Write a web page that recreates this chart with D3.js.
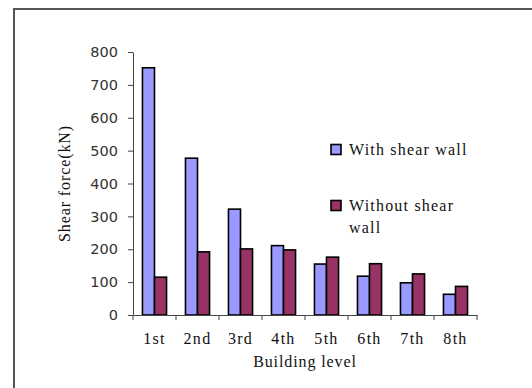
<!DOCTYPE html>
<html>
<head>
<meta charset="utf-8">
<script src="https://cdn.jsdelivr.net/npm/d3@7"></script>
<style>
  html, body { margin: 0; padding: 0; background: #fff; }
  svg { display: block; }
</style>
</head>
<body>
<svg id="chart" width="532" height="388"></svg>
<script>
// Shear force per storey, with and without a shear wall
const levels = ["1st", "2nd", "3rd", "4th", "5th", "6th", "7th", "8th"];
const withWall = [752, 477, 322, 211, 155, 118, 98, 63];
const withoutWall = [115, 192, 201, 198, 176, 156, 125, 87];
const yTicks = [0, 100, 200, 300, 400, 500, 600, 700, 800];
const seriesNames = ["With shear wall", "Without shear wall"];
const seriesColors = ["#9999FF", "#993366"];

const serif = "'Liberation Serif', 'Times New Roman', serif";
const svg = d3.select("#chart");

// outer frame (top and left edges visible)
svg.append("path")
  .attr("d", "M14,388 L14,9 L532,9")
  .attr("fill", "none")
  .attr("stroke", "#555")
  .attr("stroke-width", 2);

const plot = { left: 133, right: 477, top: 52, bottom: 315 };

const x = d3.scaleBand().domain(levels).range([plot.left, plot.right]).paddingInner(0).paddingOuter(0);
const y = d3.scaleLinear().domain([0, 800]).range([plot.bottom, plot.top]);
const barW = x.bandwidth() * 0.28;

// y axis
const yAxis = svg.append("g")
  .attr("transform", `translate(${plot.left},0)`)
  .call(d3.axisLeft(y).tickValues(yTicks).tickSize(5).tickSizeOuter(0).tickPadding(10));
yAxis.select(".domain").attr("stroke", "#444");
yAxis.selectAll(".tick line").attr("stroke", "#444");
yAxis.selectAll("text")
  .attr("font-family", "'DejaVu Sans', Verdana, sans-serif")
  .attr("font-size", "14.5px")
  .attr("fill", "#333");

// bars
const groups = levels.map((lv, i) => ({ lv, vals: [withWall[i], withoutWall[i]] }));
const g = svg.append("g");
groups.forEach(d => {
  const cx = x(d.lv) + x.bandwidth() / 2;
  d.vals.forEach((v, s) => {
    g.append("rect")
      .attr("x", cx - barW + s * barW)
      .attr("y", y(v))
      .attr("width", barW)
      .attr("height", y(0) - y(v))
      .attr("fill", seriesColors[s])
      .attr("stroke", "#000")
      .attr("stroke-width", 1.6);
  });
});

// x axis
const xAxis = svg.append("g")
  .attr("transform", `translate(0,${plot.bottom})`)
  .call(d3.axisBottom(x).tickSize(0).tickPadding(18));
xAxis.select(".domain").attr("stroke", "#444");
xAxis.selectAll("text")
  .attr("font-family", serif)
  .attr("font-size", "16px")
  .attr("letter-spacing", "1.3px")
  .attr("fill", "#111");
// tick marks between categories
const bounds = d3.range(levels.length + 1).map(i => plot.left + i * x.bandwidth());
svg.append("g").selectAll("line").data(bounds).join("line")
  .attr("x1", d => d).attr("x2", d => d)
  .attr("y1", plot.bottom).attr("y2", plot.bottom + 5)
  .attr("stroke", "#444");

// axis titles
svg.append("text")
  .attr("x", (plot.left + plot.right) / 2)
  .attr("y", 367)
  .attr("text-anchor", "middle")
  .attr("font-family", serif)
  .attr("font-size", "16px")
  .attr("letter-spacing", "0.9px")
  .attr("fill", "#111")
  .text("Building level");

svg.append("text")
  .attr("transform", `translate(70,${(plot.top + plot.bottom) / 2}) rotate(-90)`)
  .attr("text-anchor", "middle")
  .attr("font-family", serif)
  .attr("font-size", "16px")
  .attr("letter-spacing", "0.9px")
  .attr("fill", "#111")
  .text("Shear force(kN)");

// legend
const legend = svg.append("g");
const legendRows = [
  { y: 150, lines: ["With shear wall"] },
  { y: 206, lines: ["Without shear", "wall"] }
];
legendRows.forEach((r, i) => {
  legend.append("rect")
    .attr("x", 331).attr("y", r.y - 5.5)
    .attr("width", 10).attr("height", 10)
    .attr("fill", seriesColors[i])
    .attr("stroke", "#000").attr("stroke-width", 1.6);
  r.lines.forEach((t, k) => {
    legend.append("text")
      .attr("x", 349).attr("y", r.y + 5 + k * 22)
      .attr("font-family", serif)
      .attr("font-size", "16px")
      .attr("letter-spacing", "1.2px")
      .attr("fill", "#111")
      .text(t);
  });
});
</script>
</body>
</html>
